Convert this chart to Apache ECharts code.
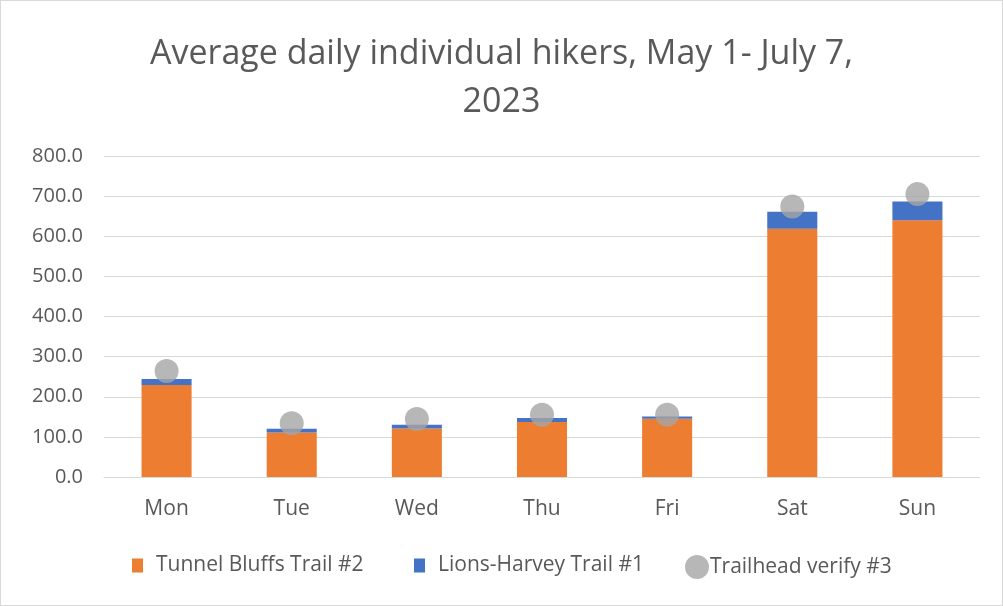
<!DOCTYPE html>
<html>
<head>
<meta charset="utf-8">
<script src="https://cdn.jsdelivr.net/npm/echarts@6/dist/echarts.min.js"></script>
<style>
  html, body { margin: 0; padding: 0; background: #fff; }
  #chart { width: 1001px; height: 604px; border: 1px solid #d9d9d9; }
</style>
</head>
<body>
<div id="chart"></div>
<script>
// days of the week
var days = ['Mon', 'Tue', 'Wed', 'Thu', 'Fri', 'Sat', 'Sun'];
// stacked bars
var tunnelBluffs = [229.5, 110.6, 121.0, 137.0, 145.0, 619.0, 640.0];
var lionsHarvey = [14.5, 9.9, 9.4, 10.0, 6.0, 42.0, 46.6];
// dots
var trailheadVerify = [264.0, 133.7, 144.5, 155.0, 155.0, 674.0, 705.0];

var txt = '#595959';
var legendText = { color: txt, fontSize: 21, padding: [0, 0, 0, 8] };
var chart = echarts.init(document.getElementById('chart'));
chart.setOption({
  animation: false,
  textStyle: { fontFamily: 'Open Sans' },
  title: {
    text: 'Average daily individual hikers, May 1- July 7,\n2023',
    left: 'center',
    top: 24,
    textStyle: { color: txt, fontSize: 34, fontWeight: 'normal', lineHeight: 48, fontFamily: 'Open Sans' }
  },
  legend: [
    {
      left: 126, top: 549,
      itemWidth: 11, itemHeight: 14,
      textStyle: legendText,
      data: [{ name: 'Tunnel Bluffs Trail #2', icon: 'rect' }]
    },
    {
      left: 408, top: 549,
      itemWidth: 11, itemHeight: 14,
      textStyle: legendText,
      data: [{ name: 'Lions-Harvey Trail #1', icon: 'rect' }]
    },
    {
      left: 679, top: 549,
      itemWidth: 24, itemHeight: 24,
      textStyle: { color: txt, fontSize: 21, padding: [0, 0, 0, -4] },
      data: [{ name: 'Trailhead verify #3', icon: 'circle' }]
    }
  ],
  grid: { left: 103, right: 22, top: 155, bottom: 128 },
  xAxis: {
    type: 'category',
    data: days,
    axisLine: { lineStyle: { color: '#d9d9d9' } },
    axisTick: { show: false },
    axisLabel: { color: txt, fontSize: 21, margin: 22 }
  },
  yAxis: {
    type: 'value',
    min: 0,
    max: 800,
    interval: 100,
    axisLine: { show: false },
    axisTick: { show: false },
    splitLine: { lineStyle: { color: '#d9d9d9' } },
    axisLabel: {
      color: txt, fontSize: 20, margin: 21,
      formatter: function (v) { return v.toFixed(1); }
    }
  },
  series: [
    {
      name: 'Tunnel Bluffs Trail #2',
      type: 'bar',
      stack: 'hikers',
      barWidth: '40%',
      itemStyle: { color: '#ed7d31' },
      data: tunnelBluffs
    },
    {
      name: 'Lions-Harvey Trail #1',
      type: 'bar',
      stack: 'hikers',
      barWidth: '40%',
      itemStyle: { color: '#4472c4' },
      data: lionsHarvey
    },
    {
      name: 'Trailhead verify #3',
      type: 'scatter',
      symbol: 'circle',
      symbolSize: 24,
      itemStyle: { color: '#a5a5a5' },
      z: 5,
      data: trailheadVerify
    }
  ]
});
</script>
</body>
</html>
